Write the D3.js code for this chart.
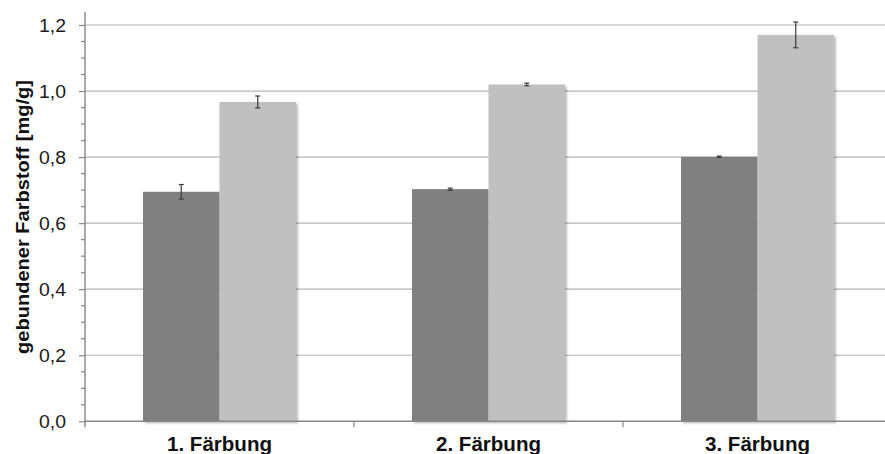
<!DOCTYPE html>
<html>
<head>
<meta charset="utf-8">
<script src="https://cdn.jsdelivr.net/npm/d3@7"></script>
<style>
  html, body { margin: 0; padding: 0; background: #fff; }
  svg { display: block; font-family: Arial, "Liberation Sans", sans-serif; }
</style>
</head>
<body>
<svg id="chart" width="885" height="454"></svg>
<script>
// Bound dye per dyeing step, two sample series with standard deviations
const categories = ["1. Färbung", "2. Färbung", "3. Färbung"];
const seriesNames = ["A", "B"];
const valuesA = [0.695, 0.703, 0.801];
const errorsA = [0.022, 0.003, 0.002];
const valuesB = [0.967, 1.020, 1.170];
const errorsB = [0.018, 0.004, 0.039];
const yTicks = [0, 0.2, 0.4, 0.6, 0.8, 1.0, 1.2];
const yMinorTicks = d3.range(0, 1.2001, 0.05);
const yLabel = "gebundener Farbstoff [mg/g]";

const colors = { A: "#808080", B: "#c0c0c0" };

const svg = d3.select("#chart");
const plotLeft = 85, plotBottom = 421.3, plotTop = 25, bandW = 269;

const x0 = d3.scaleBand().domain(categories).range([plotLeft, plotLeft + bandW * categories.length]).padding(0);
const x1 = d3.scaleBand().domain(seriesNames).range([58, bandW - 58]).padding(0);
const y = d3.scaleLinear().domain([0, 1.2]).range([plotBottom, plotTop]);

const fmt = v => d3.format(".1f")(v).replace(".", ",");

// soft drop shadow on the bars
const defs = svg.append("defs");
const f = defs.append("filter").attr("id", "shadow").attr("x", "-10%").attr("y", "-10%").attr("width", "130%").attr("height", "130%");
f.append("feDropShadow").attr("dx", 2).attr("dy", 2).attr("stdDeviation", 1.2)
  .attr("flood-color", "#000").attr("flood-opacity", 0.25);

// horizontal gridlines
svg.append("g").selectAll("line").data(yTicks.filter(d => d > 0)).join("line")
  .attr("x1", plotLeft).attr("x2", 885)
  .attr("y1", d => y(d)).attr("y2", d => y(d))
  .attr("stroke", "#b4b4b4").attr("stroke-width", 1.2);

// bars
const rows = categories.map((c, i) => [
  { cat: c, key: "A", v: valuesA[i], e: errorsA[i] },
  { cat: c, key: "B", v: valuesB[i], e: errorsB[i] }
]);
const groups = svg.append("g").selectAll("g").data(rows).join("g")
  .attr("transform", d => `translate(${x0(d[0].cat)},0)`);
groups.selectAll("rect").data(d => d).join("rect")
  .attr("x", d => x1(d.key))
  .attr("width", x1.bandwidth())
  .attr("y", d => y(d.v))
  .attr("height", d => y(0) - y(d.v))
  .attr("fill", d => colors[d.key])
  .attr("filter", "url(#shadow)");

// error bars
const eb = groups.selectAll("g.err").data(d => d).join("g").attr("class", "err")
  .attr("stroke", "#3a3a3a").attr("stroke-width", 1.2);
eb.append("line")
  .attr("x1", d => x1(d.key) + x1.bandwidth() / 2).attr("x2", d => x1(d.key) + x1.bandwidth() / 2)
  .attr("y1", d => y(d.v + d.e)).attr("y2", d => y(d.v - d.e));
[1, -1].forEach(s => {
  eb.append("line")
    .attr("x1", d => x1(d.key) + x1.bandwidth() / 2 - 2.5).attr("x2", d => x1(d.key) + x1.bandwidth() / 2 + 2.5)
    .attr("y1", d => y(d.v + s * d.e)).attr("y2", d => y(d.v + s * d.e));
});

// y axis
const axisColor = "#868686";
const yAxis = d3.axisLeft(y).tickValues(yTicks).tickSize(6).tickFormat(fmt);
const gy = svg.append("g").attr("transform", `translate(${plotLeft},0)`).call(yAxis);
gy.select(".domain").remove();
gy.selectAll(".tick line").attr("stroke", axisColor).attr("stroke-width", 1.2);
gy.selectAll(".tick text")
  .attr("x", -19).attr("dy", "0.36em")
  .style("font-size", "18px").attr("fill", "#1a1a1a")
  .attr("textLength", 27).attr("lengthAdjust", "spacingAndGlyphs");
svg.append("g").selectAll("line").data(yMinorTicks.filter(v => !yTicks.some(t => Math.abs(t - v) < 1e-6))).join("line")
  .attr("x1", plotLeft - 4).attr("x2", plotLeft)
  .attr("y1", d => y(d)).attr("y2", d => y(d))
  .attr("stroke", axisColor).attr("stroke-width", 1.2);
svg.append("line")
  .attr("x1", plotLeft).attr("x2", plotLeft).attr("y1", 12).attr("y2", plotBottom + 6)
  .attr("stroke", axisColor).attr("stroke-width", 1.4);

// x axis
const xAxis = d3.axisBottom(x0).tickSize(0).tickFormat(d => d);
const gx = svg.append("g").attr("transform", `translate(0,${plotBottom})`).call(xAxis);
gx.select(".domain").remove();
gx.selectAll(".tick text")
  .attr("y", 29.7).attr("dy", 0)
  .style("font-size", "20px").style("font-weight", "bold").attr("fill", "#111")
  .attr("textLength", 105).attr("lengthAdjust", "spacingAndGlyphs");
svg.append("line")
  .attr("x1", plotLeft).attr("x2", 885).attr("y1", plotBottom).attr("y2", plotBottom)
  .attr("stroke", axisColor).attr("stroke-width", 1.4);
svg.append("g").selectAll("line").data(categories.slice(1)).join("line")
  .attr("x1", d => x0(d)).attr("x2", d => x0(d))
  .attr("y1", plotBottom).attr("y2", plotBottom + 6)
  .attr("stroke", axisColor).attr("stroke-width", 1.2);

// y axis title
svg.append("text")
  .attr("transform", `translate(29,217) rotate(-90)`)
  .attr("text-anchor", "middle")
  .style("font-size", "19px").style("font-weight", "bold").attr("fill", "#111")
  .attr("textLength", 274).attr("lengthAdjust", "spacingAndGlyphs")
  .text(yLabel);
</script>
</body>
</html>
